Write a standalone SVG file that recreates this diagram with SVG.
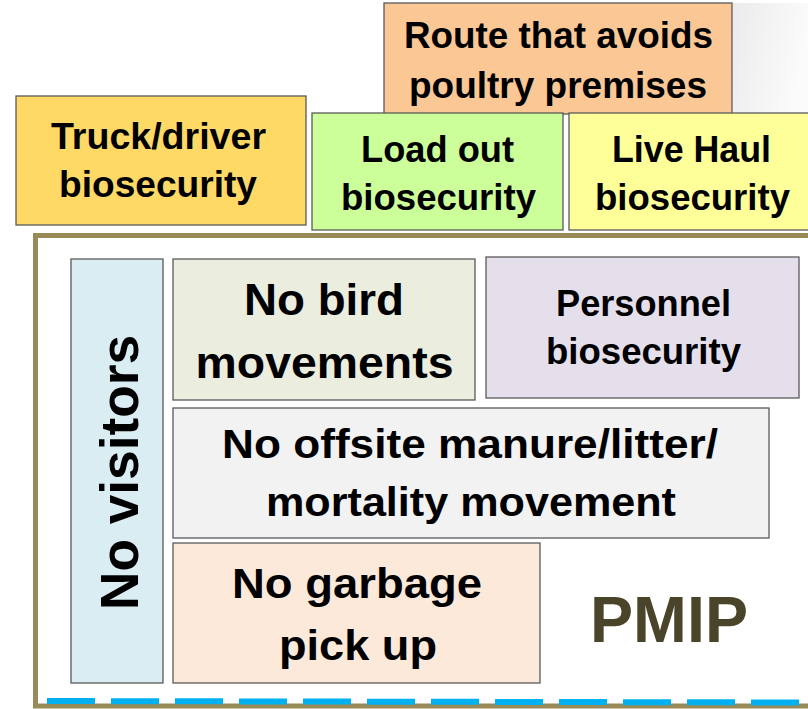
<svg xmlns="http://www.w3.org/2000/svg" width="808" height="709" viewBox="0 0 808 709">
<style>
.box{stroke:#5a5a5a;stroke-width:1.3}
.t{font-family:"Liberation Sans",Arial,sans-serif;font-weight:bold;fill:#000;text-anchor:middle}
</style>
<defs>
<linearGradient id="sh" x1="0" y1="0" x2="1" y2="0.3">
<stop offset="0" stop-color="#ebebeb"/>
<stop offset="1" stop-color="#fbfbfb"/>
</linearGradient>
</defs>
<rect width="808" height="709" fill="#fff"/>
<rect x="733" y="3" width="75" height="110" fill="url(#sh)"/>
<g id="route">
<rect class="box" x="384" y="3" width="348" height="111" fill="#FAC795"/>
<text class="t" x="558.5" y="48" font-size="36" textLength="309" lengthAdjust="spacingAndGlyphs">Route that avoids</text>
<text class="t" x="558" y="98" font-size="36" textLength="298" lengthAdjust="spacingAndGlyphs">poultry premises</text>
</g>
<g id="truck">
<rect class="box" x="16" y="96" width="290" height="129" fill="#FFD966" stroke="#6f6a50"/>
<text class="t" x="158.5" y="149" font-size="36" textLength="215" lengthAdjust="spacingAndGlyphs">Truck/driver</text>
<text class="t" x="158" y="197" font-size="36" textLength="198" lengthAdjust="spacingAndGlyphs">biosecurity</text>
</g>
<g id="loadout">
<rect class="box" x="312" y="113" width="251" height="117" fill="#CCFF99"/>
<text class="t" x="437.5" y="162" font-size="36" textLength="153" lengthAdjust="spacingAndGlyphs">Load out</text>
<text class="t" x="438.5" y="210" font-size="36" textLength="195" lengthAdjust="spacingAndGlyphs">biosecurity</text>
</g>
<g id="livehaul">
<rect class="box" x="569" y="113" width="245" height="117" fill="#FFFF99"/>
<text class="t" x="691.5" y="162" font-size="36" textLength="159" lengthAdjust="spacingAndGlyphs">Live Haul</text>
<text class="t" x="692.5" y="210" font-size="36" textLength="195" lengthAdjust="spacingAndGlyphs">biosecurity</text>
</g>
<g id="pmip">
<rect x="35.5" y="235.5" width="790" height="470.5" fill="#fff" stroke="#988B58" stroke-width="5"/>
<text x="590" y="642" font-family="'Liberation Sans',Arial,sans-serif" font-weight="bold" font-size="64" fill="#4A442A" textLength="158" lengthAdjust="spacingAndGlyphs">PMIP</text>
</g>
<g id="dashes">
<line x1="47" y1="701" x2="800" y2="702.5" stroke="#00B0F0" stroke-width="6" stroke-dasharray="48 16"/>
</g>
<g id="novisitors">
<rect class="box" x="71" y="259" width="92" height="424" fill="#DAEDF3"/>
<text class="t" transform="translate(138 472.5) rotate(-90)" x="0" y="0" font-size="54" textLength="275" lengthAdjust="spacingAndGlyphs">No visitors</text>
</g>
<g id="nobird">
<rect class="box" x="173" y="259" width="302" height="141" fill="#EBEEDF"/>
<text class="t" x="324" y="315" font-size="45" textLength="160" lengthAdjust="spacingAndGlyphs">No bird</text>
<text class="t" x="324.5" y="378" font-size="45" textLength="258" lengthAdjust="spacingAndGlyphs">movements</text>
</g>
<g id="personnel">
<rect class="box" x="486" y="257" width="313" height="141" fill="#E5DFEC"/>
<text class="t" x="643.5" y="316" font-size="36" textLength="175" lengthAdjust="spacingAndGlyphs">Personnel</text>
<text class="t" x="643.5" y="364" font-size="36" textLength="195" lengthAdjust="spacingAndGlyphs">biosecurity</text>
</g>
<g id="nooffsite">
<rect class="box" x="173" y="408" width="596" height="130" fill="#F2F2F2"/>
<text class="t" x="470" y="458" font-size="40" textLength="496" lengthAdjust="spacingAndGlyphs">No offsite manure/litter/</text>
<text class="t" x="471" y="516" font-size="40" textLength="410" lengthAdjust="spacingAndGlyphs">mortality movement</text>
</g>
<g id="nogarbage">
<rect class="box" x="173" y="543" width="367" height="140" fill="#FDE9D9"/>
<text class="t" x="357" y="598" font-size="42" textLength="250" lengthAdjust="spacingAndGlyphs">No garbage</text>
<text class="t" x="358" y="660" font-size="42" textLength="158" lengthAdjust="spacingAndGlyphs">pick up</text>
</g>
</svg>
